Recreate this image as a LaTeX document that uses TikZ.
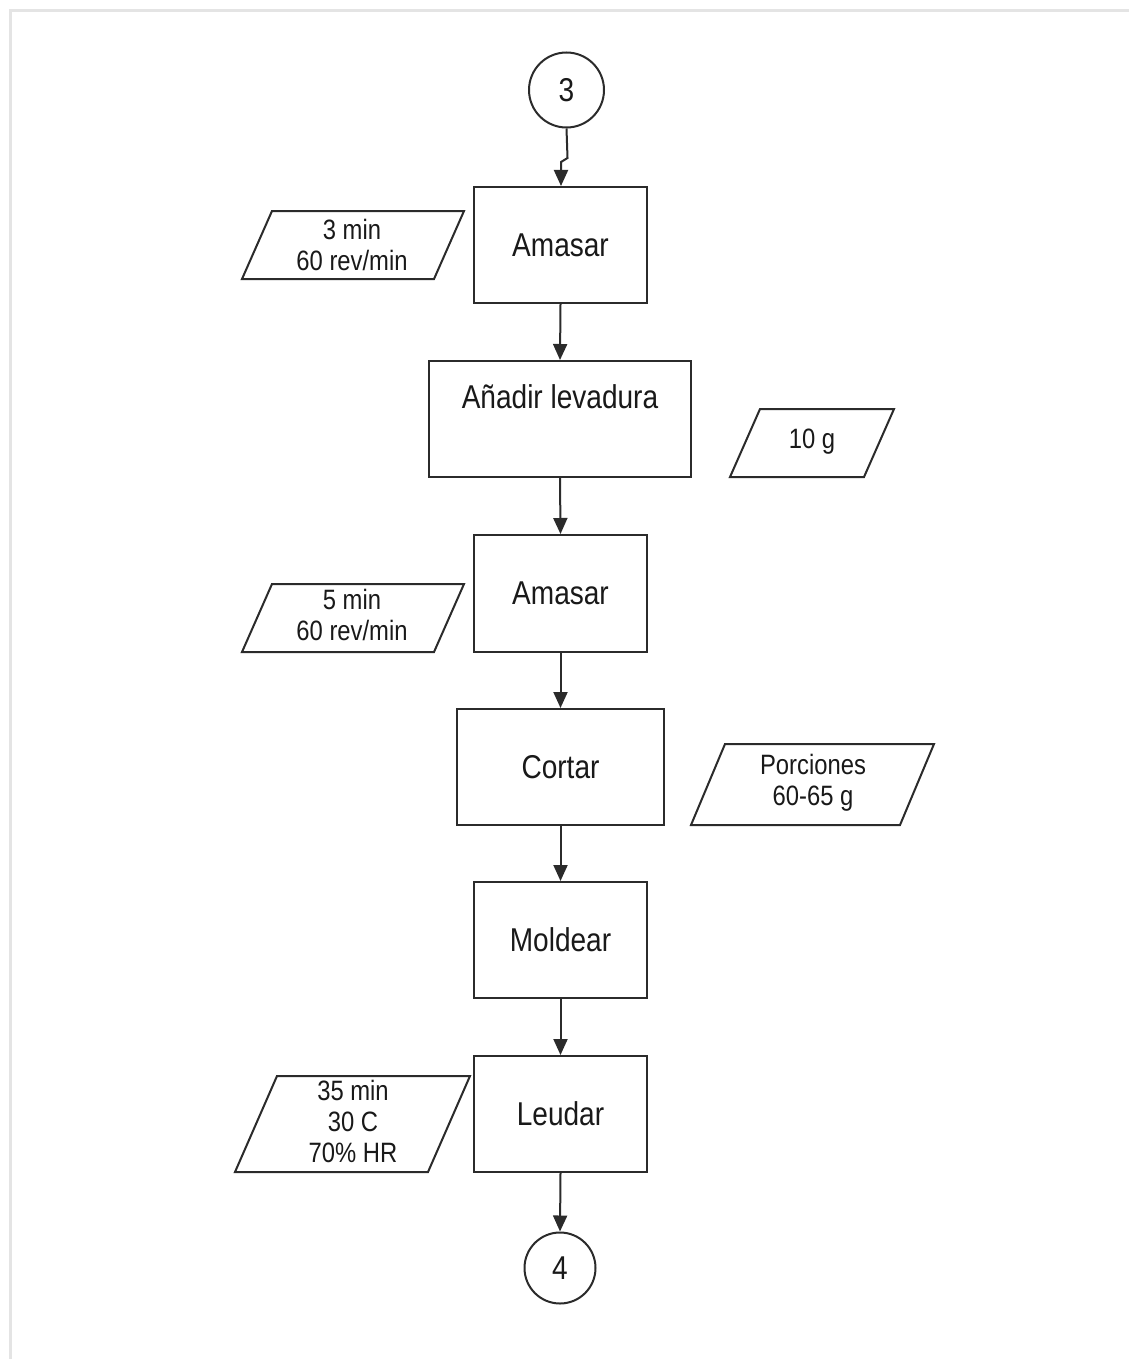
\documentclass[tikz,border=0pt]{standalone}
\usepackage{fontspec}
\usetikzlibrary{arrows.meta}
\newfontfamily\flowfont[FakeStretch=0.85]{Liberation Sans}
\definecolor{edge}{HTML}{2B2B2B}
\definecolor{framegray}{HTML}{E4E4E4}
\begin{document}
\begin{tikzpicture}[x=1pt,y=-1pt,
  stepbox/.style={draw=edge, line width=2pt, fill=white, inner sep=0pt,
    font=\flowfont\fontsize{33}{38}\selectfont, text=black!90},
  conn/.style={draw=edge, line width=2pt, fill=white, inner sep=0pt, circle,
    font=\flowfont\fontsize{33}{38}\selectfont, text=black!90},
  param/.style={draw=edge, line width=2pt, fill=white, line join=miter},
  paramtext/.style={align=center, inner sep=0pt,
    font=\flowfont\fontsize{28}{31}\selectfont, text=black!90},
  flow/.style={draw=edge, line width=2pt,
    -{Triangle[length=16pt,width=14pt]}}
]
\useasboundingbox (0,0) rectangle (1129,1359);
% page frame
\draw[framegray, line width=3pt] (10,1359) -- (10,11) -- (1129,11);

% connectors (off-page references)
\node[conn, minimum size=75] (c3) at (566.5,90) {3};
\node[conn, minimum size=71] (c4) at (560,1268) {4};

% process steps
\node[stepbox, minimum width=173, minimum height=116] (amasar1) at (560.5,245) {Amasar};
\node[stepbox, minimum width=262, minimum height=116] (anadir) at (560,419) {};
\node[inner sep=0pt, font=\flowfont\fontsize{33}{38}\selectfont, text=black!90] (anadirtext) at (560,397) {Añadir levadura};
\node[stepbox, minimum width=173, minimum height=117] (amasar2) at (560.5,593.5) {Amasar};
\node[stepbox, minimum width=207, minimum height=116] (cortar) at (560.5,767) {Cortar};
\node[stepbox, minimum width=173, minimum height=116] (moldear) at (560.5,940) {Moldear};
\node[stepbox, minimum width=173, minimum height=116] (leudar) at (560.5,1114) {Leudar};

% process parameters
\draw[param] (272,211) -- (464,211) -- (434,279) -- (242,279) -- cycle;
\node[paramtext] (p1) at (352,245) {3 min\\60 rev/min};

\draw[param] (760,409) -- (894,409) -- (864,477) -- (730,477) -- cycle;
\node[paramtext] (p2) at (812,442) {10 g};

\draw[param] (272,584) -- (464,584) -- (434,652) -- (242,652) -- cycle;
\node[paramtext] (p3) at (352,615) {5 min\\60 rev/min};

\draw[param] (725,744) -- (934,744) -- (900,825) -- (691,825) -- cycle;
\node[paramtext] (p4) at (813,783) {Porciones\\60-65 g};

\draw[param] (277,1076) -- (470,1076) -- (428,1172) -- (235,1172) -- cycle;
\node[paramtext] (p5) at (353,1121) {35 min\\30 C\\70\% HR};

% flow
\coordinate (jogtop) at (567.5,158);
\coordinate (jogbot) at (561,162);
\draw[flow] (c3.south) -- (jogtop) -- (jogbot) -- (jogbot |- amasar1.north);
\draw[flow] (amasar1.south) -- (anadir.north);
\draw[flow] (anadir.south) -- (amasar2.north);
\draw[flow] (amasar2.south) -- (cortar.north);
\draw[flow] (cortar.south) -- (moldear.north);
\draw[flow] (moldear.south) -- (leudar.north);
\draw[flow] (leudar.south) -- (c4.north);
\end{tikzpicture}
\end{document}
